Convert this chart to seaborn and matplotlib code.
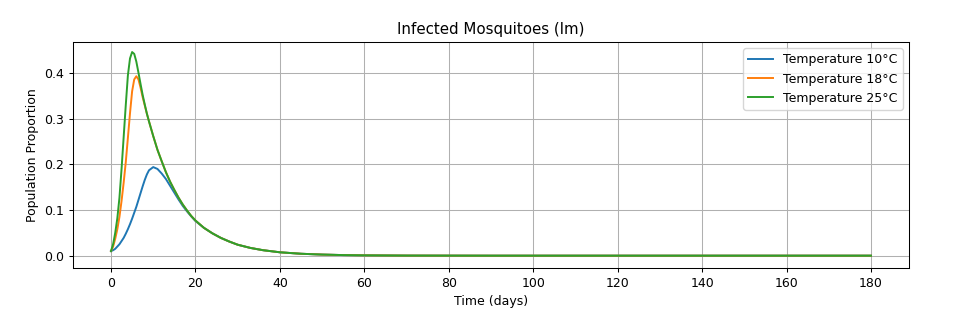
import numpy as np
import matplotlib
matplotlib.use("Agg")
import matplotlib.pyplot as plt
import seaborn as sns

# ==============================================
# Data
# ==============================================
time_days = [0, 0.5, 1, 1.5, 2, 2.5, 3, 3.5, 4, 4.5, 5, 5.5, 6, 6.5, 7, 7.5, 8, 8.5, 9,
             10, 11, 12, 13, 14, 15, 16, 17, 18, 19, 20,
             22, 24, 26, 28, 30, 33, 36, 40, 45, 50, 55, 60, 70, 80, 90, 100, 120, 140, 160, 180]

im_10 = [0.010, 0.012, 0.015, 0.020, 0.025, 0.032, 0.039, 0.048, 0.058, 0.069, 0.081, 0.094,
         0.107, 0.122, 0.137, 0.152, 0.166, 0.178, 0.187,
         0.194, 0.190, 0.180, 0.168, 0.153, 0.138, 0.123, 0.109, 0.097, 0.086, 0.076,
         0.061, 0.049, 0.039, 0.031, 0.024, 0.017, 0.012, 0.0074, 0.0042, 0.0024, 0.0013,
         0.0007, 0.0002, 0.0001, 0.0, 0.0, 0.0, 0.0, 0.0, 0.0]

im_18 = [0.010, 0.020, 0.037, 0.058, 0.085, 0.120, 0.160, 0.205, 0.258, 0.312, 0.360, 0.386,
         0.393, 0.386, 0.368, 0.347, 0.329, 0.311, 0.294,
         0.262, 0.232, 0.207, 0.183, 0.162, 0.144, 0.127, 0.112, 0.099, 0.087, 0.077,
         0.061, 0.049, 0.039, 0.031, 0.024, 0.017, 0.012, 0.0074, 0.0042, 0.0024, 0.0013,
         0.0007, 0.0002, 0.0001, 0.0, 0.0, 0.0, 0.0, 0.0, 0.0]

im_25 = [0.010, 0.025, 0.050, 0.082, 0.127, 0.190, 0.260, 0.330, 0.395, 0.432, 0.446, 0.442,
         0.425, 0.401, 0.376, 0.352, 0.331, 0.311, 0.294,
         0.262, 0.232, 0.207, 0.183, 0.162, 0.144, 0.127, 0.112, 0.099, 0.087, 0.077,
         0.061, 0.049, 0.039, 0.031, 0.024, 0.017, 0.012, 0.0074, 0.0042, 0.0024, 0.0013,
         0.0007, 0.0002, 0.0001, 0.0, 0.0, 0.0, 0.0, 0.0, 0.0]

series = [("Temperature 10°C", im_10), ("Temperature 18°C", im_18), ("Temperature 25°C", im_25)]

# ==============================================
# Plot
# ==============================================
plt.rcParams["font.size"] = 9
plt.rcParams["axes.titlesize"] = 10.8
plt.rcParams["axes.linewidth"] = 0.75
plt.rcParams["grid.linewidth"] = 0.75
plt.rcParams["xtick.major.width"] = 0.75
plt.rcParams["ytick.major.width"] = 0.75
plt.rcParams["xtick.major.size"] = 3.2
plt.rcParams["ytick.major.size"] = 3.2

fig = plt.figure(figsize=(9.65, 3.1), dpi=100)
ax = fig.add_axes([73 / 965, 1 - 268 / 310, (909 - 73) / 965, (268 - 42) / 310])

for label, values in series:
    sns.lineplot(x=time_days, y=values, label=label, ax=ax, linewidth=1.4)

ax.set_title("Infected Mosquitoes (Im)", pad=5.5)
ax.set_xlabel("Time (days)", labelpad=3.5)
ax.set_ylabel("Population Proportion", labelpad=3.5)
ax.set_xticks(np.arange(0, 181, 20))
ax.set_ylim(-0.027, 0.468)
ax.grid(True)
ax.legend(loc="upper right")

fig.savefig("out.png", dpi=100)
